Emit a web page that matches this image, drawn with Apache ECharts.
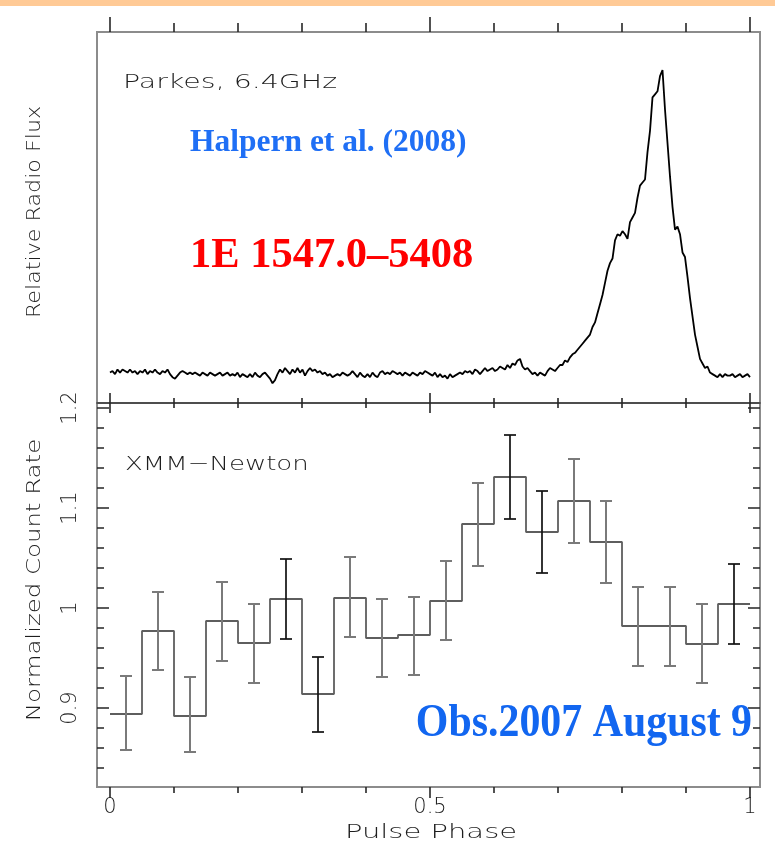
<!DOCTYPE html>
<html><head><meta charset="utf-8">
<script src="https://cdn.jsdelivr.net/npm/echarts@6/dist/echarts.min.js"></script>
<style>html,body{margin:0;padding:0;background:#fff}#chart{width:775px;height:845px}</style>
</head><body><div id="chart"></div>
<script>
// ---------- DATA ----------
// Parkes 6.4 GHz radio pulse profile (relative flux, peak = 100), 257 samples over phase 0..1
const radioSamples = 256;
const radioFlux = [
 0.5, 1, 0, 1.5, 0.5, 1.5, 1, 0.5, 1.5, 0.5, 1,
 0, 1, 0.5, 1.5, 0, 1, 0.5, 1.5, 0.5, 0,
 1, 0.5, 1.5, 0, -1, -1.5, -0.5, 0.5, 1, 0.5,
 0, 0.5, 0, 0.5, 0, -0.5, 0.5, 0, -0.5, 0.5,
 0, -0.5, 0, 0.5, -0.5, 0, 0.5, -0.5, 0, -0.5,
 0.5, -1, 0, -0.5, -1, 0, -1, 0.5, -0.5, -1,
 0, 0.5, -0.5, -1.5, -3, -2, 0, 1.5, 0.5, 2,
 1, 0, 1.5, 0.5, 2, 0.5, 1.5, -0.5, 1, 2,
 1, 1.5, 0.5, 1, 0, 0.5, -0.5, 0, -1, -0.5,
 0, -0.5, 0.5, 0, -0.5, 0, 1, 0, -1, 0.5,
 -0.5, -1, 0, -1, 0.5, -0.5, -1, 0.5, 1, 0,
 0.5, 0, 1, 0.5, 0, 0.5, -0.5, 0.5, 0, -0.5,
 0.5, 0, -0.5, 0.5, 0, 1, 0.5, 0, -0.5, 0.5,
 -1, 0, -1, -0.5, -1.5, 0, -1, -0.5, 0, 0.5,
 0, 1, 0.5, 1, 0, 1.5, 1, 0, 1, 2,
 1, 1.5, 2, 1, 1.5, 2.5, 2, 1.5, 3, 2,
 3.5, 3, 4.5, 5, 2.5, 1.5, 2, 1, 0, 0.5,
 -0.5, 0.5, 0, -0.5, 1, 2, 1.5, 1, 2, 3,
 3, 4.5, 4, 5.5, 6.5, 7, 8, 9, 10, 11,
 12, 13, 15.5, 17, 20, 23, 26, 30, 34, 36.5,
 38, 44, 46, 45.5, 47, 46, 44.5, 50, 51.5, 53,
 58, 62, 63, 64, 73, 80, 91, 92, 93, 98,
 100, 87, 76, 65, 55, 47.5, 48.5, 46, 40, 38.5,
 32, 25, 19, 13, 9, 5, 3.5, 2, 2.5, 0.5,
 0, -0.5, -1, 0, -1, 0, -0.5, -0.5, 0, -1,
 -0.5, 0, -1, -0.5, 0, -1
];

// XMM-Newton folded light curve: 20 phase bins
const binEdges = [0, 0.05, 0.1, 0.15, 0.2, 0.25, 0.3, 0.35, 0.4, 0.45, 0.5,
                  0.55, 0.6, 0.65, 0.7, 0.75, 0.8, 0.85, 0.9, 0.95, 1.0];
const countRate = [0.894, 0.977, 0.892, 0.987, 0.965, 1.009, 0.914, 1.010, 0.970, 0.973,
                   1.007, 1.084, 1.131, 1.076, 1.107, 1.066, 0.982, 0.982, 0.964, 1.004];
const errLow  = [0.858, 0.938, 0.856, 0.947, 0.925, 0.969, 0.876, 0.971, 0.931, 0.933,
                 0.968, 1.042, 1.089, 1.035, 1.065, 1.025, 0.942, 0.942, 0.925, 0.964];
const errHigh = [0.932, 1.016, 0.931, 1.026, 1.004, 1.049, 0.951, 1.051, 1.009, 1.011,
                 1.047, 1.125, 1.173, 1.117, 1.149, 1.107, 1.021, 1.021, 1.004, 1.044];

// tick positions / labels
const yMajorTicks = [0.9, 1.0, 1.1, 1.2];
const yMinorTicks = [0.84, 0.86, 0.88, 0.92, 0.94, 0.96, 0.98, 1.02, 1.04, 1.06, 1.08,
                     1.12, 1.14, 1.16, 1.18];
const xMinorTicks = [0.1, 0.2, 0.3, 0.4, 0.6, 0.7, 0.8, 0.9];
const xMajorTicks = [0, 0.5, 1];
const xTickLabels = ['0', '0.5', '1'];

// style-only: error bars that render dark in the original
const darkBars = [5, 6, 12, 13, 19];

// ---------- BUILD ----------
const radioData = radioFlux.map((v, i) => [i / radioSamples, v]);
const stepData = binEdges.map((e, i) => [e, countRate[Math.min(i, countRate.length - 1)]]);
const errData = countRate.map((v, i) => [(binEdges[i] + binEdges[i + 1]) / 2, errLow[i], errHigh[i], i]);

const TICK = '#262626';
const TXT = '#1e1e1e';
const LBL = {color: TXT, fontFamily: 'DejaVu Sans', fontWeight: 200, fontSize: 21};
const noSplit = {show: false};

// one x axis = one set of ticks (major or minor) on one edge of a grid
function xTicksAxis(grid, pos, inside, values, len, labels) {
  return {
    type: 'value', gridIndex: grid, position: pos, min: 0, max: 1,
    axisLine: {show: false, onZero: false},
    axisTick: {show: true, inside: inside, length: len, customValues: values, lineStyle: {color: TICK, width: 1.6}},
    axisLabel: labels ? Object.assign({show: true, margin: 10, customValues: values,
        formatter: v => xTickLabels[xMajorTicks.indexOf(v)]}, LBL) : {show: false},
    splitLine: noSplit
  };
}
function yTicksAxis(pos, values, len, labels) {
  return {
    type: 'value', gridIndex: 3, position: pos, offset: pos === 'left' ? 13 : 10,
    min: 0.821, max: 1.205,
    axisLine: {show: false, onZero: false},
    axisTick: {show: true, inside: true, length: len, customValues: values, lineStyle: {color: TICK, width: 1.5}},
    axisLabel: labels ? Object.assign({show: true, rotate: 90, margin: 16, customValues: values,
        formatter: v => String(Math.round(v * 10) / 10)}, LBL) : {show: false},
    splitLine: noSplit
  };
}

function gText(text, x, y, opts) {
  return Object.assign({
    type: 'text', x: x, y: y, z: 100,
    style: Object.assign({text: text, fill: TXT, fontFamily: 'DejaVu Sans', fontWeight: 200, fontSize: 19,
      align: 'left', textAlign: 'left', verticalAlign: 'middle', textVerticalAlign: 'middle'}, opts.style || {})
  }, opts.el || {});
}

const frame = {show: true, borderColor: '#8c8c8c', borderWidth: 2, backgroundColor: 'transparent', outerBoundsMode: 'none'};
const option = {
  animation: false,
  backgroundColor: '#ffffff',
  grid: [
    Object.assign({left: 97, top: 32, width: 663, height: 371}, frame),
    Object.assign({left: 97, top: 403, width: 663, height: 384}, frame),
    {left: 110, top: 32, width: 640, height: 371, outerBoundsMode: 'none'},
    {left: 110, top: 403, width: 640, height: 384, outerBoundsMode: 'none'},
    // strip above the top panel: its bottom edge is the top panel's upper frame
    {left: 110, top: 0, width: 640, height: 32, outerBoundsMode: 'none'}
  ],
  xAxis: [
    {type: 'value', gridIndex: 0, show: false, min: 0, max: 1, axisLine: {onZero: false}},
    {type: 'value', gridIndex: 1, position: 'top', min: 0, max: 1,
     axisLine: {show: true, onZero: false, lineStyle: {color: '#3a3a3a', width: 1.6}},
     axisTick: {show: false}, axisLabel: {show: false}, splitLine: noSplit},
    // top panel upper edge: ticks pointing upward (drawn as inner ticks of the strip grid)
    xTicksAxis(4, 'bottom', true, xMajorTicks, 15, false),
    xTicksAxis(4, 'bottom', true, xMinorTicks, 9, false),
    // top panel lower edge: inner ticks
    xTicksAxis(2, 'bottom', true, xMajorTicks, 10, false),
    xTicksAxis(2, 'bottom', true, xMinorTicks, 5, false),
    // bottom panel: inner ticks on top edge, outer ticks + labels on bottom edge
    xTicksAxis(3, 'top', true, xMajorTicks, 10, false),
    xTicksAxis(3, 'top', true, xMinorTicks, 5, false),
    xTicksAxis(3, 'bottom', false, xMajorTicks, 11, true),
    xTicksAxis(3, 'bottom', false, xMinorTicks, 6, false)
  ],
  yAxis: [
    {type: 'value', gridIndex: 0, show: false, min: 0, max: 1, axisLine: {onZero: false}},
    {type: 'value', gridIndex: 1, show: false, min: 0, max: 1, axisLine: {onZero: false}},
    {type: 'value', gridIndex: 2, show: false, min: -9.5, max: 112.5, axisLine: {onZero: false}},
    yTicksAxis('left', yMajorTicks, 12, true),
    yTicksAxis('left', yMinorTicks, 7, false),
    yTicksAxis('right', yMajorTicks, 12, false),
    yTicksAxis('right', yMinorTicks, 7, false),
    {type: 'value', gridIndex: 4, show: false, min: 0, max: 1, axisLine: {onZero: false}}
  ],
  series: [
    {type: 'line', name: 'Parkes 6.4GHz', xAxisIndex: 4, yAxisIndex: 2, data: radioData,
     showSymbol: false, symbol: 'none', lineStyle: {color: '#000', width: 1.8}, silent: true},
    {type: 'line', name: 'XMM-Newton', xAxisIndex: 8, yAxisIndex: 3, data: stepData, step: 'end',
     showSymbol: false, symbol: 'none', lineStyle: {color: '#5e5e5e', width: 1.8}, silent: true, z: 3},
    {type: 'custom', name: 'errors', xAxisIndex: 8, yAxisIndex: 3, data: errData,
     encode: {x: 0, y: [1, 2]}, z: 4, silent: true,
     renderItem: function (params, api) {
       const x = api.value(0);
       const lo = api.coord([x, api.value(1)]);
       const hi = api.coord([x, api.value(2)]);
       const dark = darkBars.indexOf(api.value(3)) >= 0;
       const st = {stroke: dark ? '#111' : '#7a7a7a', lineWidth: dark ? 1.7 : 2};
       const cap = 6;
       return {type: 'group', children: [
         {type: 'line', shape: {x1: lo[0], y1: lo[1], x2: hi[0], y2: hi[1]}, style: st},
         {type: 'line', shape: {x1: lo[0] - cap, y1: lo[1], x2: lo[0] + cap, y2: lo[1]}, style: st},
         {type: 'line', shape: {x1: hi[0] - cap, y1: hi[1], x2: hi[0] + cap, y2: hi[1]}, style: st}
       ]};
     }}
  ],
  graphic: [
    {type: 'rect', shape: {x: 0, y: 0, width: 775, height: 6}, style: {fill: '#FFCA96'}, z: 100},
    gText('Parkes, 6.4GHz', 123, 83, {el: {scaleX: 1.42}, style: {fontSize: 20}}),
    gText('XMM\u2212Newton', 125, 465, {el: {scaleX: 1.3}, style: {fontSize: 20}}),
    gText('Pulse Phase', 431, 833, {el: {scaleX: 1.45}, style: {fontSize: 20, align: 'center', textAlign: 'center'}}),
    gText('Normalized Count Rate', 35, 580, {el: {scaleX: 1.22, rotation: Math.PI / 2}, style: {fontSize: 20, align: 'center', textAlign: 'center'}}),
    gText('Relative Radio Flux', 35, 212, {el: {scaleX: 1.11, rotation: Math.PI / 2}, style: {fontSize: 20, align: 'center', textAlign: 'center'}}),
    gText('Halpern et al. (2008)', 190, 143, {style: {fill: '#1f6ff5', fontFamily: 'Liberation Serif', fontWeight: 'bold', fontSize: 31.5}}),
    gText('1E 1547.0\u20135408', 190, 256, {style: {fill: '#ff0000', fontFamily: 'Liberation Serif', fontWeight: 'bold', fontSize: 42.5}}),
    gText('Obs.2007 August 9', 752, 724, {el: {scaleX: 0.91}, style: {fill: '#1266f0', fontFamily: 'Liberation Serif', fontWeight: 'bold', fontSize: 46, align: 'right', textAlign: 'right'}})
  ]
};

const chart = echarts.init(document.getElementById('chart'), null, {renderer: 'canvas'});
chart.setOption(option);
</script></body></html>
